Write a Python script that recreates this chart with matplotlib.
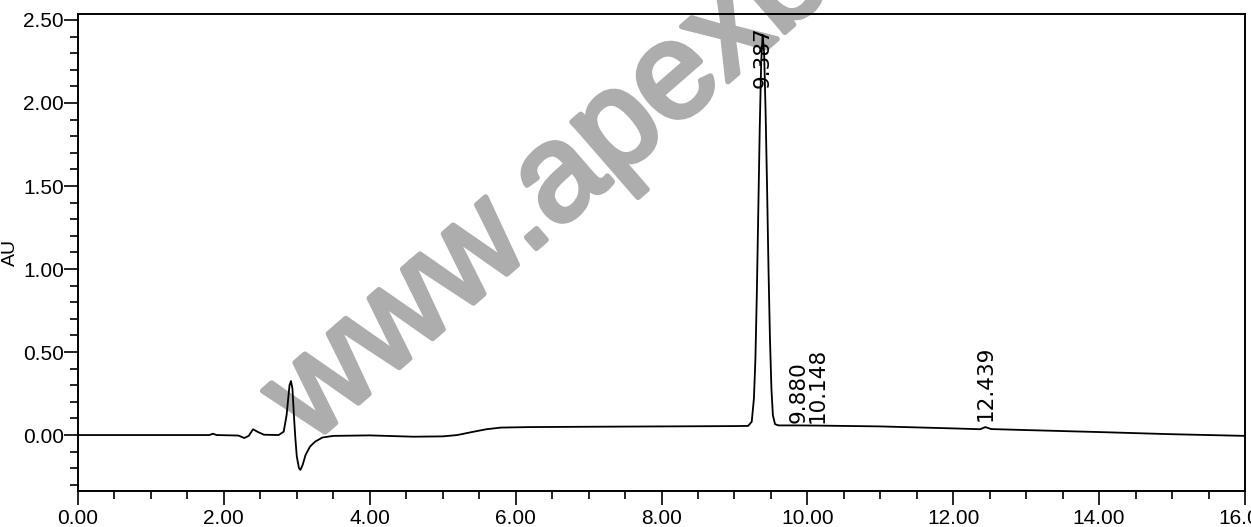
"""HPLC chromatogram (AU vs. minutes) redrawn with matplotlib."""
import matplotlib

matplotlib.use("Agg")
import matplotlib.pyplot as plt
import matplotlib.patheffects as pe
from matplotlib.ticker import MultipleLocator, FormatStrFormatter

# trace: retention time (min) and absorbance (AU)
time_min = [
    0.00, 1.00, 1.80, 1.85, 1.90, 2.20, 2.28, 2.34, 2.40, 2.46, 2.55, 2.75,
    2.82, 2.86, 2.90, 2.92, 2.94, 2.96, 2.98, 3.00, 3.03, 3.05, 3.08, 3.12,
    3.18, 3.25, 3.35, 3.50, 4.00, 4.60, 5.00, 5.20, 5.40, 5.60, 5.80, 6.20,
    7.00, 8.00, 9.00, 9.187, 9.237, 9.267, 9.287, 9.307, 9.327, 9.347,
    9.367, 9.387, 9.407, 9.427, 9.447, 9.467, 9.487, 9.507, 9.527, 9.557,
    9.607, 9.880, 10.148, 11.00, 12.00, 12.37, 12.44, 12.52, 13.00, 14.00,
    15.00, 16.00,
]
absorbance = [
    0.000, 0.000, 0.000, 0.008, 0.000, -0.003, -0.018, -0.005, 0.035, 0.020,
    0.002, 0.000, 0.020, 0.120, 0.300, 0.325, 0.280, 0.120, -0.020, -0.130,
    -0.200, -0.210, -0.180, -0.120, -0.070, -0.040, -0.015, -0.005, -0.002,
    -0.010, -0.008, 0.000, 0.018, 0.035, 0.045, 0.048, 0.050, 0.052, 0.054,
    0.055, 0.080, 0.220, 0.450, 0.850, 1.350, 1.850, 2.250, 2.410, 2.300,
    1.950, 1.500, 1.000, 0.580, 0.280, 0.120, 0.065, 0.058, 0.058, 0.057,
    0.052, 0.040, 0.035, 0.048, 0.036, 0.030, 0.018, 0.005, -0.005,
]

# integrated peaks: label text and where the label sits
peak_rt = [9.387, 9.880, 10.148, 12.439]
peak_labels = ["9.387", "9.880", "10.148", "12.439"]
label_y = [2.46, 0.07, 0.075, 0.085]
label_va = ["top", "bottom", "bottom", "bottom"]

W, H = 1251, 527
fig = plt.figure(figsize=(W / 100, H / 100), dpi=100)
ax = fig.add_axes([78 / W, 1 - 491 / H, (1245 - 78) / W, (491 - 14) / H])

# watermark behind everything
fig.text(310 / W, 1 - 445 / H, "www.apexbt.com", rotation=41,
         rotation_mode="anchor", ha="left", va="baseline",
         fontsize=98, family="Liberation Sans", color="#adadad", zorder=0,
         path_effects=[pe.withStroke(linewidth=4, foreground="#adadad")])
ax.set_zorder(1)
ax.patch.set_alpha(0)

ax.plot(time_min, absorbance, color="black", lw=1.3, zorder=3)

for rt, txt, y, va in zip(peak_rt, peak_labels, label_y, label_va):
    ax.text(rt, y, txt, rotation=90, ha="center", va=va,
            fontsize=15.5, family="DejaVu Sans", color="black", zorder=4)

ax.set_xlim(0, 16)
ax.set_ylim(-0.337, 2.536)
ax.xaxis.set_major_locator(MultipleLocator(2))
ax.xaxis.set_minor_locator(MultipleLocator(0.5))
ax.yaxis.set_major_locator(MultipleLocator(0.5))
ax.yaxis.set_minor_locator(MultipleLocator(0.1))
ax.xaxis.set_major_formatter(FormatStrFormatter("%.2f"))
ax.yaxis.set_major_formatter(FormatStrFormatter("%.2f"))

ax.tick_params(which="major", length=10, width=1.2, direction="out",
               labelsize=15, colors="black")
ax.tick_params(which="minor", length=6, width=1.2, direction="out")
ax.tick_params(axis="y", pad=0)
ax.tick_params(axis="x", pad=3)
for lab in ax.get_xticklabels() + ax.get_yticklabels():
    lab.set_family("Liberation Sans")
for s in ax.spines.values():
    s.set_linewidth(1.4)

ax.set_ylabel("AU", fontsize=14, family="Liberation Sans")
ax.yaxis.set_label_coords((19 - 78) / (1245 - 78), 0.5)

fig.savefig("out.png", dpi=100)
